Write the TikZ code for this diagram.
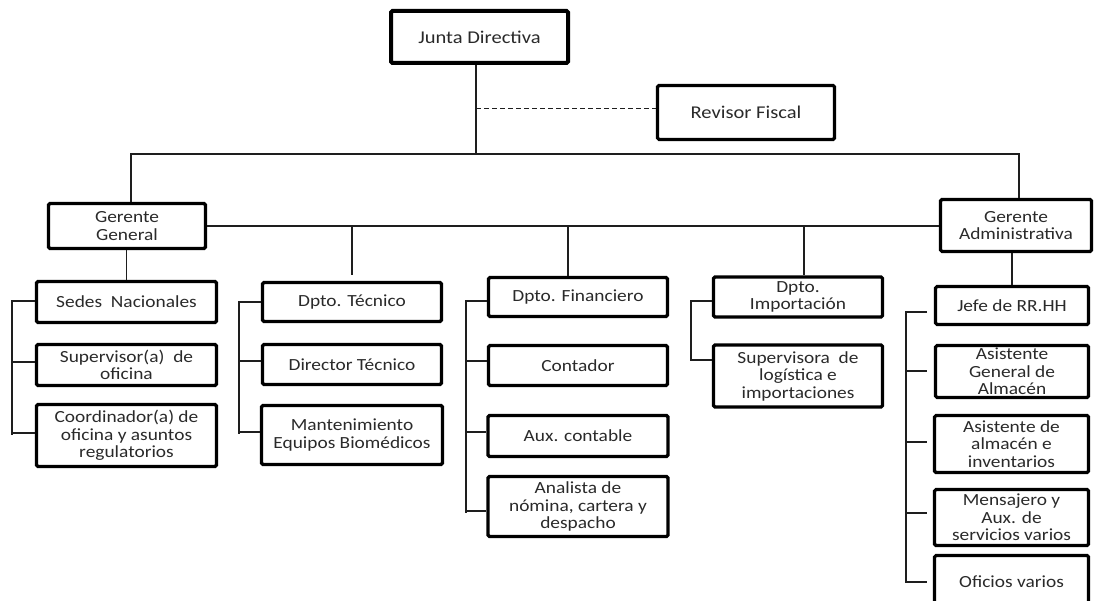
\documentclass[tikz,border=0pt]{standalone}
\usepackage{fontspec}
\setmainfont{Carlito}[FakeStretch=1.14]
\definecolor{txt}{HTML}{2A2A2A}
\definecolor{ln}{HTML}{1E1E1E}
\tikzset{
  box/.style={draw=black, line width=3.2pt, rounded corners=1.5pt, fill=white,
    align=center, inner sep=0pt, text=txt, font=\fontsize{17}{17.5}\selectfont},
  bigtext/.style={font=\fontsize{18}{20}\selectfont},
  conn/.style={draw=ln, line width=1.3pt},
  dashline/.style={draw=ln, line width=1pt, dash pattern=on 5pt off 3pt},
}
\begin{document}
\begin{tikzpicture}[x=1pt,y=-1pt]
\useasboundingbox (0,0) rectangle (1094,601);
% top level
\node[box, bigtext, line width=4pt, minimum width=177, minimum height=52] (jd) at (479.5,37) {Junta Directiva};
\node[box, bigtext, minimum width=177, minimum height=54] (rf) at (746,112.5) {Revisor Fiscal};
\node[box, minimum width=157, minimum height=45] (gg) at (127,226) {Gerente\\General};
\node[box, minimum width=151, minimum height=52] (ga) at (1016,225.5) {Gerente\\Administrativa};
% column 1
\node[box, minimum width=180, minimum height=41] (sedes) at (126.5,302) {Sedes\ \ Nacionales};
\node[box, minimum width=180, minimum height=41] (sup) at (126.5,365) {Supervisor(a)\ \ de\\oficina};
\node[box, minimum width=180, minimum height=62] (coord) at (126.5,435.5) {Coordinador(a) de\\oficina y asuntos\\regulatorios};
% column 2
\node[box, minimum width=179, minimum height=39] (dtec) at (352,302) {Dpto. Técnico};
\node[box, minimum width=179, minimum height=40] (dirt) at (352,364.5) {Director Técnico};
\node[box, minimum width=181, minimum height=59] (mant) at (352,435) {Mantenimiento\\Equipos Biomédicos};
% column 3
\node[box, minimum width=179, minimum height=39] (dfin) at (578,297) {Dpto. Financiero};
\node[box, minimum width=179, minimum height=40] (cont) at (578,365.5) {Contador};
\node[box, minimum width=180, minimum height=41] (aux) at (578,436) {Aux. contable};
\node[box, minimum width=180, minimum height=60] (anal) at (578,506.5) {Analista de\\nómina, cartera y\\despacho};
% column 4
\node[box, minimum width=169, minimum height=40] (dimp) at (798,297) {Dpto.\\Importación};
\node[box, minimum width=169, minimum height=62] (supv) at (798,376) {Supervisora\ \ de\\logística e\\importaciones};
% column 5
\node[box, minimum width=153, minimum height=38] (jefe) at (1012,305.5) {Jefe de RR.HH};
\node[box, minimum width=153, minimum height=52] (asg) at (1012,371.5) {Asistente\\General de\\Almacén};
\node[box, minimum width=154, minimum height=57] (asa) at (1011.5,444) {Asistente de\\almacén e\\inventarios};
\node[box, minimum width=154, minimum height=56] (mens) at (1011.5,517.5) {Mensajero y\\Aux. de\\servicios varios};
\node[box, minimum width=154, minimum height=53] (ofi) at (1011.5,582) {Oficios varios};
% top connectors
\coordinate (jv) at (476,154);
\coordinate (b1l) at (131,154);
\coordinate (b1r) at (1019,154);
\draw[conn] (jd.south -| jv) -- (jv);
\draw[conn] (gg.north -| b1l) -- (b1l) -- (b1r) -- (ga.north -| b1r);
\coordinate (dsh) at (476,109);
\draw[dashline] (dsh) -- (rf.west |- dsh);
% second bus
\draw[conn] (gg.east) -- (ga.west |- gg.east);
\coordinate (d1) at (352,226);
\coordinate (d2) at (568,226);
\coordinate (d3) at (804,226);
\draw[conn, shorten >=6pt] (d1) -- (dtec.north -| d1);
\draw[conn] (d2) -- (dfin.north -| d2);
\draw[conn] (d3) -- (dimp.north -| d3);
\draw[conn] (gg.south -| sedes.north) -- (sedes.north);
\draw[conn] (ga.south -| jefe.north) -- (jefe.north);
% bracket column 1
\coordinate (sa) at (12,301); \coordinate (sb) at (12,362);
\coordinate (sc) at (12,433); \coordinate (se) at (12,435);
\draw[conn] (sedes.west |- sa) -- (sa) -- (se);
\draw[conn] (sb) -- (sup.west |- sb);
\draw[conn] (sc) -- (coord.west |- sc);
% bracket column 2
\coordinate (ta) at (239,302); \coordinate (tb) at (239,361);
\coordinate (tc) at (239,432); \coordinate (te) at (239,434);
\draw[conn] (dtec.west |- ta) -- (ta) -- (te);
\draw[conn] (tb) -- (dirt.west |- tb);
\draw[conn] (tc) -- (mant.west |- tc);
% bracket column 3
\coordinate (fa) at (466,301); \coordinate (fb) at (466,361);
\coordinate (fc) at (466,432); \coordinate (fd) at (466,511);
\coordinate (fe) at (466,513);
\draw[conn] (dfin.west |- fa) -- (fa) -- (fe);
\draw[conn] (fb) -- (cont.west |- fb);
\draw[conn] (fc) -- (aux.west |- fc);
\draw[conn] (fd) -- (anal.west |- fd);
% bracket column 4
\coordinate (ia) at (691,301); \coordinate (ib) at (691,360);
\draw[conn] (dimp.west |- ia) -- (ia) -- (ib) -- (supv.west |- ib);
% bracket column 5
\coordinate (g1) at (906,312); \coordinate (g1e) at (927,312);
\coordinate (g2) at (906,371); \coordinate (g2e) at (927,371);
\coordinate (g3) at (906,442); \coordinate (g3e) at (927,442);
\coordinate (g4) at (906,513); \coordinate (g4e) at (927,513);
\coordinate (g5) at (906,582); \coordinate (g5e) at (927,582);
\draw[conn] (g1e) -- (g1) -- (g5) -- (g5e);
\draw[conn] (g2) -- (g2e);
\draw[conn] (g3) -- (g3e);
\draw[conn] (g4) -- (g4e);
\end{tikzpicture}
\end{document}
